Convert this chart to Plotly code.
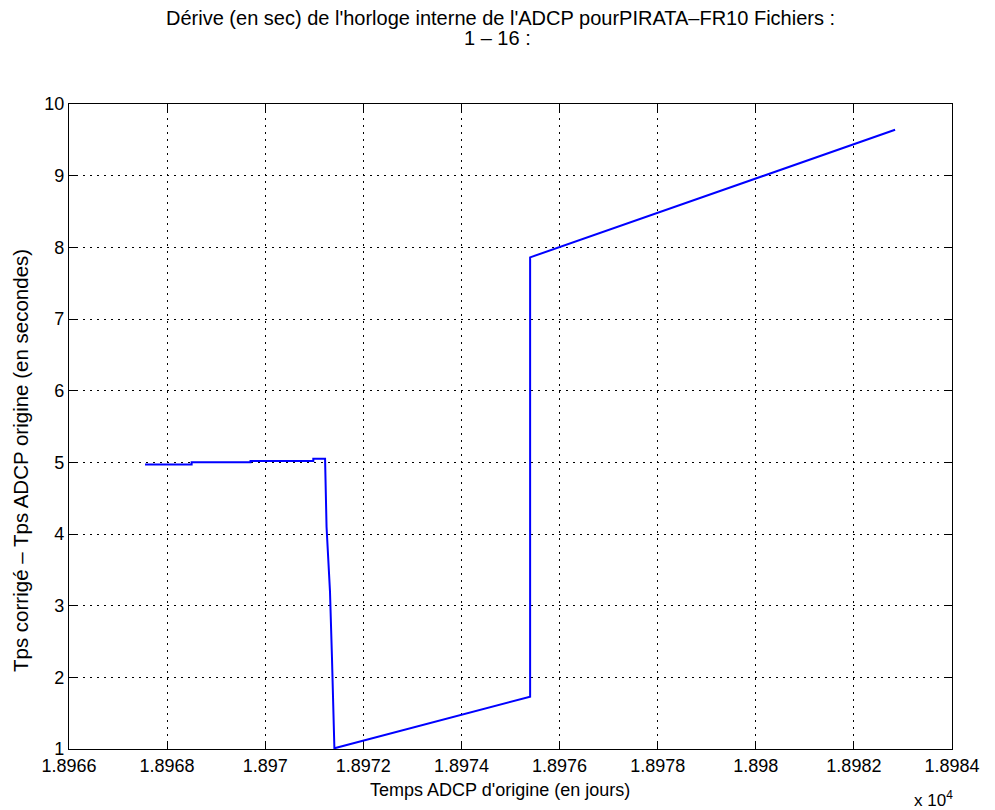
import plotly.graph_objects as go

# Data (days, seconds)
t_days = [18967.55, 18968.50, 18968.50, 18969.70, 18969.70, 18970.98, 18970.98,
          18971.22, 18971.25, 18971.32, 18971.36, 18971.39, 18971.41,
          18975.40, 18975.40, 18982.84]
drift_s = [4.97, 4.97, 5.00, 5.00, 5.02, 5.02, 5.05,
           5.05, 4.10, 3.20, 2.29, 1.38, 1.01,
           1.73, 7.86, 9.64]

x_tickvals = [18966, 18968, 18970, 18972, 18974, 18976, 18978, 18980, 18982, 18984]
x_ticktext = ["1.8966", "1.8968", "1.897", "1.8972", "1.8974", "1.8976",
              "1.8978", "1.898", "1.8982", "1.8984"]
y_tickvals = [1, 2, 3, 4, 5, 6, 7, 8, 9, 10]

FONT = "Liberation Sans, Arial, sans-serif"


def txt(size):
    return dict(family=FONT, size=size, color="black")


fig = go.Figure()
fig.add_trace(go.Scatter(x=t_days, y=drift_s, mode="lines",
                         line=dict(color="#0000ff", width=2),
                         showlegend=False, hoverinfo="skip"))

axis_common = dict(showline=True, linecolor="black", linewidth=1.2, mirror="allticks",
                   ticks="inside", ticklen=7, tickcolor="black", tickwidth=1,
                   showgrid=True, gridcolor="black", griddash="2px,5px", gridwidth=1,
                   zeroline=False, automargin=False, tickfont=txt(18))

fig.update_xaxes(range=[18966, 18984], tickvals=x_tickvals, ticktext=x_ticktext,
                 **axis_common)
fig.update_yaxes(range=[1, 10], tickvals=y_tickvals, **axis_common)

# page body has an 8px margin, so the figure is sized/offset to compensate
fig.update_layout(
    width=979, height=802,
    paper_bgcolor="white", plot_bgcolor="white",
    margin=dict(l=61, r=35, t=96, b=61),
    font=txt(19),
)

PW, PH = 883.0, 645.0  # plot size in px (x0=69, y0=104 on screen)


def px(xs):
    return (xs - 69) / PW


def py(ys):
    return 1 - (ys - 104) / PH


fig.add_annotation(text="Dérive (en sec) de l'horloge interne de l'ADCP pourPIRATA–FR10 Fichiers :",
                   xref="paper", yref="paper", x=px(500), y=py(18),
                   showarrow=False, xanchor="center", yanchor="middle", font=txt(20))
fig.add_annotation(text="1 – 16 :", xref="paper", yref="paper", x=px(497), y=py(38),
                   showarrow=False, xanchor="center", yanchor="middle", font=txt(20))

fig.add_annotation(text="Temps ADCP d'origine (en jours)", xref="paper", yref="paper",
                   x=px(500), y=py(790), showarrow=False, xanchor="center", yanchor="middle",
                   font=txt(18))
fig.add_annotation(text="Tps corrigé – Tps ADCP origine (en secondes)", xref="paper", yref="paper",
                   x=px(20), y=py(461), showarrow=False, xanchor="center", yanchor="middle",
                   textangle=-90, font=txt(20.5))

fig.add_annotation(text="x 10<sup>4</sup>", xref="paper", yref="paper",
                   x=px(955), y=py(799), xanchor="right", yanchor="middle", showarrow=False,
                   font=txt(17))

fig.write_html("out.html")
